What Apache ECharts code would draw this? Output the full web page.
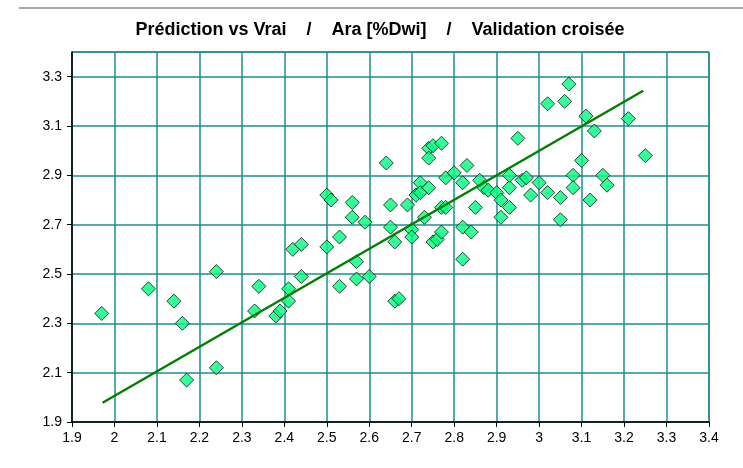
<!DOCTYPE html>
<html>
<head>
<meta charset="utf-8">
<script src="https://cdn.jsdelivr.net/npm/echarts@6/dist/echarts.min.js"></script>
<style>
  html, body { margin: 0; padding: 0; background: #fff; }
  #chart { width: 743px; height: 468px; }
</style>
</head>
<body>
<div id="chart"></div>
<script>
// --- données ---
const titleText = 'Prédiction vs Vrai    /    Ara [%Dwi]    /    Validation croisée'

// valeurs vraies (x) et prédites (y)
const vrai = [
  1.97, 2.08, 2.14, 2.16, 2.17, 2.24, 2.24, 2.34, 2.33, 2.38, 2.39, 2.41, 2.41, 2.44, 2.42, 2.44,
  2.50, 2.50, 2.51, 2.53, 2.53, 2.56, 2.56, 2.57, 2.57, 2.59, 2.60, 2.64, 2.65, 2.65, 2.66, 2.66, 2.67, 2.69,
  2.70, 2.70, 2.72, 2.71, 2.72, 2.74, 2.73, 2.74, 2.75, 2.77, 2.74, 2.75, 2.76, 2.77, 2.77, 2.78, 2.78,
  2.80, 2.83, 2.82, 2.82, 2.84, 2.82, 2.85, 2.86, 2.87, 2.88,
  2.90, 2.91, 2.91, 2.93, 2.93, 2.93, 2.95, 2.96, 2.97, 2.98,
  3.00, 3.02, 3.02, 3.05, 3.05, 3.06, 3.07, 3.08, 3.08, 3.10, 3.11, 3.13, 3.12, 3.15, 3.16, 3.21, 3.25
]
const predit = [
  2.34, 2.44, 2.39, 2.30, 2.07, 2.51, 2.12, 2.45, 2.35, 2.33, 2.35, 2.39, 2.44, 2.49, 2.60, 2.62,
  2.61, 2.82, 2.80, 2.65, 2.45, 2.79, 2.73, 2.55, 2.48, 2.71, 2.49, 2.95, 2.78, 2.69, 2.63, 2.39, 2.40, 2.78,
  2.68, 2.65, 2.87, 2.82, 2.83, 2.85, 2.73, 3.01, 3.02, 3.03, 2.97, 2.63, 2.64, 2.67, 2.77, 2.77, 2.89,
  2.91, 2.94, 2.87, 2.69, 2.67, 2.56, 2.77, 2.88, 2.85, 2.84,
  2.83, 2.80, 2.73, 2.77, 2.85, 2.90, 3.05, 2.88, 2.89, 2.82,
  2.87, 2.83, 3.19, 2.81, 2.72, 3.20, 3.27, 2.90, 2.85, 2.96, 3.14, 3.08, 2.80, 2.90, 2.86, 3.13, 2.98
]

// droite de régression (extrémités)
const regX = [1.972, 3.245]
const regY = [1.978, 3.243]

const chart = echarts.init(document.getElementById('chart'))

const points = vrai.map((v, i) => [v, predit[i]])
const regLine = regX.map((v, i) => [v, regY[i]])

const axisFont = { color: '#000', fontSize: 14, fontFamily: 'Liberation Sans, Arial, sans-serif' }
const gridLine = { show: true, lineStyle: { color: '#1b8f8f', width: 1.5 } }

chart.setOption({
  animation: false,
  backgroundColor: '#fff',
  title: {
    text: titleText,
    left: 375,
    textAlign: 'center',
    top: 16,
    textStyle: { fontSize: 18, fontWeight: 'bold', color: '#000', fontFamily: 'Liberation Sans, Arial, sans-serif' }
  },
  graphic: [{
    type: 'line',
    shape: { x1: 19, y1: 8, x2: 743, y2: 8 },
    style: { stroke: '#8a8a8a', lineWidth: 1.5 }
  }],
  grid: {
    left: 72, right: 34, top: 52, bottom: 46,
    show: true, borderColor: '#333', borderWidth: 1
  },
  xAxis: {
    type: 'value',
    min: 1.9, max: 3.4, interval: 0.1,
    axisLine: { lineStyle: { color: '#000', width: 1.5 } },
    axisTick: { show: true, length: 5, lineStyle: { color: '#000' } },
    axisLabel: { ...axisFont, margin: 9, formatter: v => String(+v.toFixed(1)) },
    splitLine: gridLine
  },
  yAxis: {
    type: 'value',
    min: 1.9, max: 3.4, interval: 0.2,
    axisLine: { show: true, lineStyle: { color: '#000', width: 1.5 } },
    axisTick: { show: true, length: 5, lineStyle: { color: '#000' } },
    axisLabel: { ...axisFont, margin: 10, showMaxLabel: false, formatter: v => (+v).toFixed(1) },
    splitLine: gridLine
  },
  series: [
    {
      type: 'scatter',
      data: points,
      symbol: 'diamond',
      symbolSize: 14,
      itemStyle: { color: '#00ff80', borderColor: '#111', borderWidth: 1 },
      z: 2
    },
    {
      type: 'line',
      data: regLine,
      symbol: 'none',
      lineStyle: { color: '#008000', width: 2.5 },
      z: 3
    }
  ]
})
</script>
</body>
</html>
